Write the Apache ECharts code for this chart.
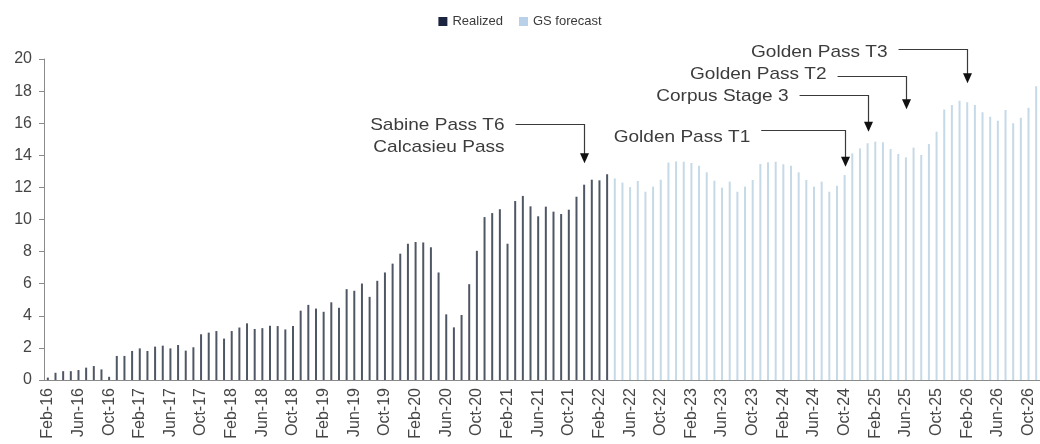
<!DOCTYPE html>
<html>
<head>
<meta charset="utf-8">
<script src="https://cdn.jsdelivr.net/npm/echarts@6/dist/echarts.min.js"></script>
<style>
  html, body { margin: 0; padding: 0; background: #ffffff; }
  #chart { width: 1040px; height: 444px; }
</style>
</head>
<body>
<div id="chart"></div>
<script>
// US LNG export capacity, monthly, Bcf/d
const MONTH_NAMES = ['Jan', 'Feb', 'Mar', 'Apr', 'May', 'Jun', 'Jul', 'Aug', 'Sep', 'Oct', 'Nov', 'Dec'];
const START_YEAR = 2016;
const START_MONTH = 1; // Feb

// Feb-16 .. Mar-22
const realized = [
  0.15, 0.45, 0.55, 0.55, 0.62, 0.77, 0.87, 0.66, 0.2, 1.5,
  1.5, 1.81, 1.97, 1.81, 2.08, 2.14, 1.97, 2.18, 1.83, 2.04,
  2.85, 2.95, 3.05, 2.58, 3.05, 3.27, 3.53, 3.18, 3.23, 3.38,
  3.36, 3.15, 3.36, 4.32, 4.68, 4.45, 4.25, 4.84, 4.5, 5.66,
  5.56, 6.01, 5.18, 6.18, 6.7, 7.25, 7.87, 8.49, 8.6, 8.57,
  8.27, 6.7, 4.09, 3.28, 4.05, 5.97, 8.05, 10.15, 10.4, 10.64,
  8.49, 11.15, 11.47, 10.82, 10.2, 10.8, 10.49, 10.34, 10.61, 11.42,
  12.17, 12.48, 12.44, 12.82
];

// Apr-22 .. Nov-26
const forecast = [
  12.56, 12.3, 12.02, 12.4, 11.73, 12.05, 12.48, 13.55, 13.62, 13.6,
  13.52, 13.35, 12.94, 12.42, 11.98, 12.36, 11.73, 12.05, 12.46, 13.46,
  13.56, 13.6, 13.44, 13.35, 12.94, 12.46, 12.05, 12.36, 11.73, 12.1,
  12.77, 14.12, 14.43, 14.75, 14.85, 14.81, 14.39, 14.08, 13.87, 14.48,
  14.02, 14.7, 15.47, 16.86, 17.13, 17.4, 17.3, 17.13, 16.68, 16.4,
  16.16, 16.82, 15.99, 16.34, 16.97, 18.3
];

const seriesNames = ['Realized', 'GS forecast'];
const yTicks = [0, 2, 4, 6, 8, 10, 12, 14, 16, 18, 20];

// Month labels such as "Feb-16"
const categories = [];
for (let i = 0; i < realized.length + forecast.length; i++) {
  const m = START_MONTH + i;
  const year = START_YEAR + Math.floor(m / 12);
  categories.push(MONTH_NAMES[m % 12] + '-' + String(year).slice(2));
}

// Project start-ups called out on the chart
const projects = [
  { text: 'Sabine Pass T6\nCalcasieu Pass', month: 'Dec-21' },
  { text: 'Golden Pass T1', month: 'Oct-24' },
  { text: 'Corpus Stage 3', month: 'Jan-25' },
  { text: 'Golden Pass T2', month: 'Jun-25' },
  { text: 'Golden Pass T3', month: 'Feb-26' }
];
// Leader-line placement for each call-out (axis units / months / px)
const leaderLayout = [
  { level: 15.95, tip: 13.5, reach: 8.8, dy: 1 },
  { level: 15.55, tip: 13.29, reach: 11.3, dy: 7 },
  { level: 17.76, tip: 15.47, reach: 8.8, dy: 1 },
  { level: 18.94, tip: 16.87, reach: 9.0, dy: -2 },
  { level: 20.6, tip: 18.49, reach: 8.8, dy: 3 }
];

const realizedData = categories.map((c, i) => i < realized.length ? realized[i] : null);
const forecastData = categories.map((c, i) => i >= realized.length ? forecast[i - realized.length] : null);

const FONT = '"Liberation Sans", Arial, sans-serif';
const TEXT_COLOR = '#454545';

const chart = echarts.init(document.getElementById('chart'), null, { renderer: 'canvas' });

chart.setOption({
  animation: false,
  backgroundColor: '#ffffff',
  textStyle: { fontFamily: FONT },
  legend: {
    top: 10,
    left: 'center',
    icon: 'rect',
    itemWidth: 9,
    itemHeight: 9,
    itemGap: 16,
    textStyle: { fontSize: 13, color: '#3a3a3a', fontFamily: FONT },
    data: [
      { name: seriesNames[0], itemStyle: { color: '#1c2540' } },
      { name: seriesNames[1], itemStyle: { color: '#b9d1e8' } }
    ]
  },
  grid: { left: 44, right: 0, top: 59, bottom: 64, containLabel: false },
  xAxis: {
    type: 'category',
    data: categories,
    boundaryGap: true,
    axisLine: { lineStyle: { color: '#8a8a8a', width: 1 } },
    axisTick: { interval: 3, length: 5, lineStyle: { color: '#8a8a8a' } },
    axisLabel: {
      interval: 3,
      rotate: 90,
      margin: 8,
      fontSize: 16,
      color: TEXT_COLOR,
      fontFamily: FONT
    },
    splitLine: { show: false }
  },
  yAxis: {
    type: 'value',
    min: yTicks[0],
    max: yTicks[yTicks.length - 1],
    interval: 2,
    axisLine: { show: true, lineStyle: { color: '#8a8a8a', width: 1 } },
    axisTick: { show: true, length: 5, lineStyle: { color: '#8a8a8a' } },
    axisLabel: { fontSize: 16, color: TEXT_COLOR, margin: 12, fontFamily: FONT },
    splitLine: { show: false }
  },
  series: [
    {
      name: seriesNames[0],
      type: 'bar',
      data: realizedData,
      barWidth: 2,
      barGap: '-100%',
      itemStyle: { color: '#4f5664' }
    },
    {
      name: seriesNames[1],
      type: 'bar',
      data: forecastData,
      barWidth: 2,
      barGap: '-100%',
      itemStyle: { color: '#c6d9e7' }
    }
  ]
});

// Call-out leader lines with arrowheads, anchored to the axes
function drawCallouts() {
  const elements = [];
  projects.forEach((p, k) => {
    const lay = leaderLayout[k];
    const idx = categories.indexOf(p.month);
    const tipPt = chart.convertToPixel({ gridIndex: 0 }, [idx, lay.tip]);
    const levelPt = chart.convertToPixel({ gridIndex: 0 }, [idx, lay.level]);
    const startPt = chart.convertToPixel({ gridIndex: 0 }, [idx - lay.reach, lay.level]);
    const x = Math.round(tipPt[0]) + 0.5;
    const yl = Math.round(levelPt[1]) + 0.5;
    const yt = tipPt[1];
    const x0 = x - (tipPt[0] - startPt[0]);
    elements.push({
      type: 'polyline',
      shape: { points: [[x0, yl], [x, yl], [x, yt - 8]] },
      style: { stroke: '#3a3a3a', lineWidth: 1.2, fill: null },
      z: 10
    });
    elements.push({
      type: 'polygon',
      shape: { points: [[x - 4.5, yt - 10], [x + 4.5, yt - 10], [x, yt]] },
      style: { fill: '#111111' },
      z: 10
    });
    elements.push({
      type: 'text',
      x: x0 - 11,
      y: yl - 11 + lay.dy,
      scaleX: 1.12,
      style: {
        text: p.text,
        x: 0,
        y: 0,
        align: 'right',
        verticalAlign: 'top',
        lineHeight: 22,
        font: '17px ' + FONT,
        fill: '#3c3c3c'
      },
      z: 10
    });
  });
  chart.setOption({ graphic: { elements: elements } });
}
drawCallouts();
</script>
</body>
</html>
